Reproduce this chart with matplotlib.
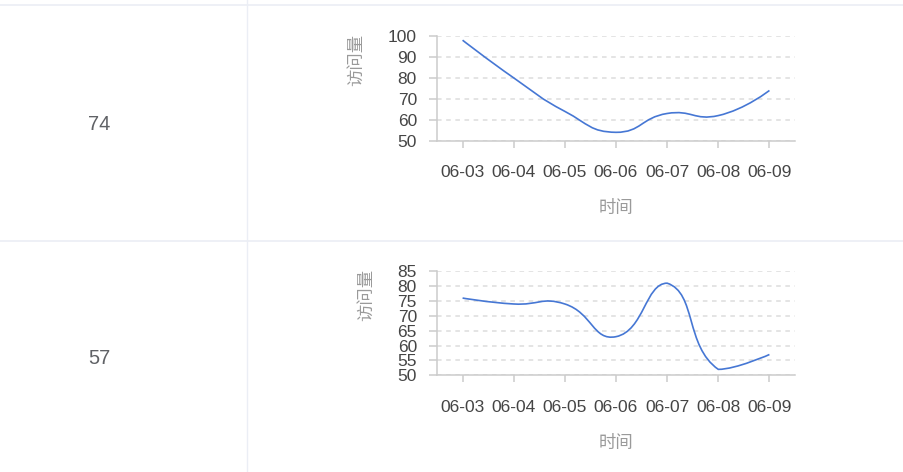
import matplotlib
import matplotlib.pyplot as plt
import numpy as np
from matplotlib.path import Path
from matplotlib.patches import PathPatch

matplotlib.use("Agg")

# --------------------------------------------------------------------------
# Data
# --------------------------------------------------------------------------
DATES = ["06-03", "06-04", "06-05", "06-06", "06-07", "06-08", "06-09"]
VISITS_A = [98, 80, 64, 54, 63, 62, 74]
VISITS_B = [76, 74, 74, 63, 81, 52, 57]
LATEST = [74, 57]

Y_TICKS_A = [50, 60, 70, 80, 90, 100]
Y_TICKS_B = [50, 55, 60, 65, 70, 75, 80, 85]

X_NAME = "时间"
Y_NAME = "访问量"

# --------------------------------------------------------------------------
# Style
# --------------------------------------------------------------------------
W, H, DPI = 904, 472, 100
LINE = "#4677d4"
AXIS = "#cccccc"
GRID = "#dcdcdc"
LABEL = "#454545"
NAME = "#9a9a9a"
CELL = "#606266"
BORDER = "#ebeef5"
PT = 72 / DPI  # points per pixel

plt.rcParams["font.family"] = ["Liberation Sans", "Noto Sans CJK SC", "DejaVu Sans"]


def px_box(left, top, right, bottom):
    return [left / W, 1 - bottom / H, (right - left) / W, (bottom - top) / H]


def smooth_path(ax, xs, ys, smooth=0.5):
    """Bezier through the points; control points clamped to the data bbox
    (echarts smoothConstraint), so the curve never overshoots min/max."""
    pts = ax.transData.transform(np.column_stack([xs, ys]))
    lo, hi = pts.min(axis=0), pts.max(axis=0)
    verts = [pts[0]]
    codes = [Path.MOVETO]
    cp0 = pts[0].copy()
    n = len(pts)
    for i in range(1, n):
        prev, cur = pts[i - 1], pts[i]
        if i + 1 < n:
            nxt = pts[i + 1]
            v = nxt - prev
            l0 = np.hypot(*(cur - prev))
            l1 = np.hypot(*(nxt - cur))
            r = l1 / (l0 + l1) if (l0 + l1) > 0 else 0.5
            cp1 = cur - v * smooth * (1 - r)
        else:
            v = np.zeros(2)
            r = 0.5
            cp1 = cur.copy()
        cp0 = np.clip(cp0, lo, hi)
        cp1 = np.clip(cp1, lo, hi)
        verts += [cp0, cp1, cur]
        codes += [Path.CURVE4] * 3
        cp0 = cur + v * smooth * r
    verts = ax.transData.inverted().transform(np.array(verts))
    return Path(verts, codes)


def mini_chart(fig, box_px, values, yticks, yname_x):
    left, top, right, bottom = box_px
    ax = fig.add_axes(px_box(left, top, right, bottom))
    x = np.arange(len(DATES))
    ax.set_xlim(-0.5, len(DATES) - 0.5)
    ax.set_ylim(yticks[0], yticks[-1])
    ax.set_xticks(x)
    ax.set_xticklabels(DATES)
    ax.set_yticks(yticks)

    for s in ("top", "right"):
        ax.spines[s].set_visible(False)
    for s in ("left", "bottom"):
        ax.spines[s].set_color(AXIS)
        ax.spines[s].set_linewidth(1.1)

    ax.tick_params(axis="x", length=7 * PT, width=1.1, color=AXIS,
                   labelsize=12.5, labelcolor=LABEL, pad=12.5)
    ax.tick_params(axis="y", length=8 * PT, width=1.1, color=AXIS,
                   labelsize=12.5, labelcolor=LABEL, pad=12 * PT)
    ax.grid(axis="y", color=GRID, linewidth=1.1, linestyle=(0, (3, 3)))
    ax.set_axisbelow(True)

    path = smooth_path(ax, x, values)
    ax.add_patch(PathPatch(path, facecolor="none", edgecolor=LINE,
                           linewidth=1.2, clip_on=False, zorder=3))

    cx = (left + right) / 2
    fig.text(cx / W, 1 - (bottom + 67.5) / H, X_NAME, ha="center", va="center",
             fontsize=12.5, color=NAME, family=["Noto Sans CJK SC"])
    fig.text(yname_x / W, 1 - (top - 2.5) / H, Y_NAME, ha="center", va="top",
             rotation=90, fontsize=12.5, color=NAME, family=["Noto Sans CJK SC"])
    return ax


fig = plt.figure(figsize=(W / DPI, H / DPI), dpi=DPI)

# table borders
fig.add_artist(plt.Line2D([0, 1], [1 - 5 / H] * 2, color=BORDER, lw=1.2))
fig.add_artist(plt.Line2D([0, 1], [1 - 240.5 / H] * 2, color=BORDER, lw=1.2))
fig.add_artist(plt.Line2D([247 / W] * 2, [0, 1], color=BORDER, lw=1.0))

for val, yc in zip(LATEST, [124, 359]):
    fig.text(99 / W, 1 - yc / H, str(val), ha="center", va="center",
             fontsize=14.5, color=CELL)

mini_chart(fig, (437, 36, 795, 140.7), VISITS_A, Y_TICKS_A, 356)
mini_chart(fig, (437, 271.3, 795, 375.3), VISITS_B, Y_TICKS_B, 366)

fig.savefig("out.png", dpi=DPI, facecolor="white")
